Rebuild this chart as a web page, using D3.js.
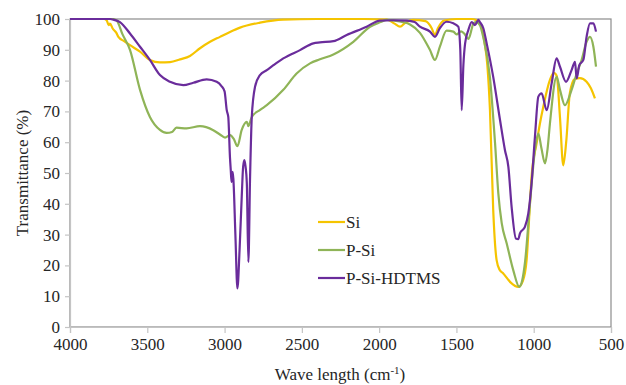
<!DOCTYPE html>
<html>
<head>
<meta charset="utf-8">
<script src="https://cdn.jsdelivr.net/npm/d3@7"></script>
<style>
  body { margin: 0; background: #fff; }
  text { font-family: "Times New Roman", "Liberation Serif", Times, serif; fill: #262626; }
</style>
</head>
<body>
<div id="chart"></div>
<script>
// wavenumber (cm-1) / transmittance (%)
var siWave = [4000, 3780, 3762, 3750, 3741, 3725, 3700, 3687, 3650, 3612, 3547, 3483, 3418, 3353, 3288, 3224, 3159, 3094, 3030, 2965, 2900, 2771, 2622, 2400, 2100, 1950, 1900, 1865, 1830, 1780, 1700, 1660, 1639, 1620, 1580, 1500, 1400, 1348, 1320, 1300, 1283, 1262, 1240, 1220, 1197, 1150, 1100, 1070, 1046, 1030, 1014, 981, 960, 938, 895, 870, 851, 830, 809, 790, 766, 735, 701, 658, 630, 604];
var siVal = [100, 100, 99.5, 98, 98.5, 97, 95.5, 94.2, 92.8, 91.5, 89.4, 86.7, 85.9, 86, 86.9, 88, 90.5, 92.6, 94.2, 95.8, 97.2, 98.8, 99.8, 100, 100, 99.8, 98.5, 97.5, 98.8, 99.7, 99.3, 97, 94.8, 97, 99.5, 100, 100, 98.7, 93, 85, 70.4, 38, 21.7, 18.5, 17.4, 14.5, 13, 15, 21.7, 35, 48.7, 59.7, 66, 71.5, 80.2, 82.5, 81.5, 68, 52.5, 60, 76, 80.5, 80.8, 79.6, 77.5, 74.2];

var psiWave = [4000, 3720, 3698, 3660, 3612, 3547, 3483, 3418, 3375, 3340, 3311, 3246, 3159, 3073, 3030, 2997, 2965, 2940, 2917, 2889, 2856, 2846, 2824, 2770, 2727, 2620, 2534, 2447, 2383, 2296, 2167, 2059, 1990, 1951, 1900, 1844, 1800, 1736, 1671, 1639, 1607, 1564, 1520, 1499, 1470, 1445, 1423, 1400, 1391, 1370, 1348, 1326, 1283, 1250, 1229, 1207, 1175, 1132, 1093, 1075, 1057, 1024, 992, 970, 950, 927, 910, 895, 852, 830, 798, 755, 722, 690, 658, 636, 614, 597];
var psiVal = [100, 100, 99.5, 95, 90, 77, 68.2, 64, 63, 63.3, 64.7, 64.5, 65.2, 63.9, 62.5, 61.5, 62.3, 61, 58.7, 64, 66.6, 65.2, 68.2, 70.5, 72, 77, 82.3, 85.6, 86.9, 88.5, 92.6, 97.5, 99, 99.7, 99.5, 99, 98.2, 95.5, 89.9, 86.7, 91, 96.2, 95.9, 95, 96, 95, 93.5, 97, 98.6, 99, 98, 94, 81, 59.6, 43.4, 33.7, 27.2, 18.4, 13, 15, 20.7, 40.2, 57.4, 62.8, 58, 53.1, 58, 66.1, 81.2, 77, 72, 77, 82.3, 86.7, 92.6, 94.2, 91, 84.5];

var hdWave = [4000, 3740, 3720, 3677, 3612, 3547, 3483, 3418, 3353, 3267, 3202, 3116, 3051, 3020, 3000, 2986, 2976, 2965, 2960, 2955, 2948, 2943, 2930, 2917, 2903, 2889, 2880, 2872, 2864, 2856, 2846, 2835, 2824, 2803, 2771, 2727, 2684, 2620, 2512, 2426, 2383, 2296, 2210, 2081, 1995, 1908, 1822, 1770, 1736, 1671, 1639, 1607, 1564, 1520, 1488, 1475, 1466, 1455, 1444, 1423, 1401, 1380, 1358, 1348, 1326, 1304, 1262, 1218, 1186, 1164, 1143, 1115, 1100, 1089, 1057, 1035, 1014, 992, 970, 949, 916, 884, 852, 830, 791, 755, 733, 722, 705, 679, 658, 636, 614, 597];
var hdVal = [100, 100, 99.8, 99, 95.3, 91, 86.7, 81.8, 79.6, 78.5, 79.3, 80.4, 79.6, 78.2, 76.5, 70.4, 68.2, 55, 51, 47.1, 50.4, 48, 30, 12.5, 25, 42.3, 52, 54.2, 52, 46.7, 21.1, 48.7, 68.2, 78, 81.8, 83.4, 85, 87.2, 89.9, 92.1, 92.4, 92.8, 94.8, 97.5, 99.5, 99.6, 99.5, 99, 97.5, 95.9, 94.2, 97, 99.1, 98.6, 97.5, 90, 70.4, 85, 92, 96.4, 99, 98, 99.7, 99, 97, 92, 81.2, 67.2, 57.4, 52, 39, 28.7, 28.5, 30.4, 32.5, 36.9, 46.6, 61.8, 74.8, 75.9, 70.4, 79.1, 87.2, 84.5, 79.6, 83.4, 86.1, 80.7, 85, 86.7, 94.2, 98.6, 98.6, 95.9];

var seriesNames = ["Si", "P-Si", "P-Si-HDTMS"];
var seriesColors = ["#f5c400", "#8fb457", "#6a2c9b"];
var xTicks = [4000, 3500, 3000, 2500, 2000, 1500, 1000, 500];
var yTicks = [0, 10, 20, 30, 40, 50, 60, 70, 80, 90, 100];

var w = 626,
    h = 385,
    margin = {top: 19, right: 15, bottom: 58, left: 70},
    serif = "'Times New Roman', 'Liberation Serif', Times, serif";

var series = [
    {name: seriesNames[0], color: seriesColors[0], wave: siWave, val: siVal},
    {name: seriesNames[1], color: seriesColors[1], wave: psiWave, val: psiVal},
    {name: seriesNames[2], color: seriesColors[2], wave: hdWave, val: hdVal}
];

var svg = d3.select("#chart")
    .append("svg")
    .attr("width", w)
    .attr("height", h);

var x = d3.scaleLinear().domain([4000, 500]).range([margin.left, w - margin.right]);
var y = d3.scaleLinear().domain([0, 100]).range([h - margin.bottom, margin.top]);

// plot area border (top and right)
svg.append("rect")
    .attr("x", x(4000))
    .attr("y", y(100))
    .attr("width", x(500) - x(4000))
    .attr("height", y(0) - y(100))
    .style("fill", "none")
    .style("stroke", "#8c8c8c")
    .style("stroke-width", 1.2);

// axes
var xAxis = svg.append("g")
    .attr("transform", "translate(0," + y(0) + ")")
    .call(d3.axisBottom(x).tickValues(xTicks).tickSize(6).tickPadding(5).tickFormat(d3.format("d")));

var yAxis = svg.append("g")
    .attr("transform", "translate(" + x(4000) + ",0)")
    .call(d3.axisLeft(y).tickValues(yTicks).tickSize(5).tickPadding(5));

[xAxis, yAxis].forEach(function(a) {
    a.select(".domain").style("stroke", "#c4c4c4").style("stroke-width", 1.2);
    a.selectAll(".tick line").style("stroke", "#c4c4c4").style("stroke-width", 1.2);
    a.selectAll(".tick text")
        .style("font-family", serif)
        .style("font-size", "17px")
        .style("fill", "#262626");
});

// spectra
var line = d3.line()
    .x(function(d) { return x(d[0]); })
    .y(function(d) { return y(d[1]); })
    .curve(d3.curveMonotoneX);

series.forEach(function(s) {
    var pts = s.wave.map(function(wv, i) { return [wv, s.val[i]]; });
    svg.append("path")
        .datum(pts)
        .attr("d", line)
        .style("fill", "none")
        .style("stroke", s.color)
        .style("stroke-width", 2.2)
        .style("stroke-linejoin", "round");
});

// legend
var legend = svg.append("g").attr("transform", "translate(318,222)");
series.forEach(function(s, i) {
    var g = legend.append("g").attr("transform", "translate(0," + (i * 28) + ")");
    g.append("line")
        .attr("x1", 0).attr("x2", 27)
        .attr("y1", 0).attr("y2", 0)
        .style("stroke", s.color)
        .style("stroke-width", 2.2);
    g.append("text")
        .attr("x", 28)
        .attr("y", 6)
        .style("font-family", serif)
        .style("font-size", "17px")
        .text(s.name);
});

// axis titles
var xt = svg.append("text")
    .attr("x", 340)
    .attr("y", 380)
    .attr("text-anchor", "middle")
    .style("font-family", serif)
    .style("font-size", "17px");
xt.append("tspan").text("Wave length (cm");
xt.append("tspan").attr("dy", -6).style("font-size", "11px").text("-1");
xt.append("tspan").attr("dy", 6).text(")");

svg.append("text")
    .attr("transform", "translate(28," + ((y(0) + y(100)) / 2) + ") rotate(-90)")
    .attr("text-anchor", "middle")
    .style("font-family", serif)
    .style("font-size", "17px")
    .text("Transmittance (%)");
</script>
</body>
</html>
